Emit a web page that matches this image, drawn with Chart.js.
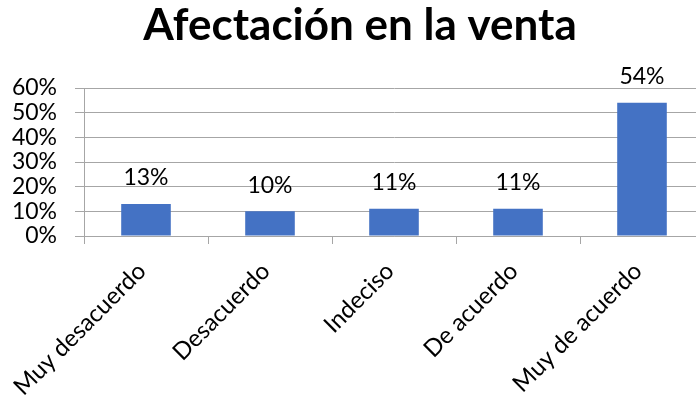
<!DOCTYPE html>
<html>
<head>
<meta charset="utf-8">
<script src="https://cdn.jsdelivr.net/npm/chart.js@4.4.1/dist/chart.umd.min.js"></script>
<style>
  html, body { margin: 0; padding: 0; background: #fff; }
  #wrap { width: 696px; height: 401px; overflow: hidden; position: relative; }
  #box { width: 722px; height: 401px; position: absolute; left: 0; top: 0; }
</style>
</head>
<body>
<div id="wrap"><div id="box"><canvas id="c"></canvas></div></div>
<script>
const chartTitle = "Afectación en la venta";
const categories = ["Muy desacuerdo", "Desacuerdo", "Indeciso", "De acuerdo", "Muy de acuerdo"];
const values = [13, 10, 11, 11, 54];
const yTicks = [0, 10, 20, 30, 40, 50, 60];

const FONT = "Lato, 'Open Sans', sans-serif";
const GRID = "#a6a6a6";

const titlePlugin = {
  id: 'titleText',
  afterDraw(chart) {
    const ctx = chart.ctx;
    ctx.save();
    ctx.font = "bold 44px " + FONT;
    ctx.fillStyle = "#000";
    ctx.textAlign = "center";
    ctx.textBaseline = "alphabetic";
    ctx.fillText(chartTitle, 360, 40);
    ctx.restore();
  }
};

const dataLabels = {
  id: 'dataLabels',
  afterDatasetsDraw(chart) {
    const ctx = chart.ctx;
    const meta = chart.getDatasetMeta(0);
    ctx.save();
    ctx.font = "23px " + FONT;
    ctx.fillStyle = "#000";
    ctx.textAlign = "center";
    ctx.textBaseline = "middle";
    meta.data.forEach((bar, i) => {
      ctx.fillText(values[i] + "%", bar.x, bar.y - 26);
    });
    ctx.restore();
  }
};

new Chart(document.getElementById('c'), {
  type: 'bar',
  data: {
    labels: categories,
    datasets: [{
      data: values,
      backgroundColor: "#4472C4",
      borderWidth: 0,
      barPercentage: 0.4,
      categoryPercentage: 1.0
    }]
  },
  options: {
    responsive: true,
    maintainAspectRatio: false,
    animation: false,
    layout: { padding: { left: 0, right: 18, top: 88, bottom: 0 } },
    plugins: {
      legend: { display: false },
      tooltip: { enabled: false },
      title: { display: false }
    },
    scales: {
      x: {
        offset: true,
        grid: { display: true, drawOnChartArea: false, drawTicks: true, tickLength: 8, color: GRID, offset: true },
        border: { display: true, color: GRID },
        ticks: {
          color: "#000",
          font: { family: FONT, size: 24 },
          minRotation: 45, maxRotation: 45,
          padding: 13,
          labelOffset: -4,
          autoSkip: false
        },
        afterFit(scale) { scale.height = 165; scale.paddingLeft = 0; scale.paddingRight = 0; }
      },
      y: {
        min: 0, max: 60,
        afterBuildTicks(scale) { scale.ticks = yTicks.map(v => ({ value: v })); },
        grid: { color: GRID, drawTicks: true, tickLength: 9 },
        border: { display: true, color: GRID },
        ticks: {
          color: "#000",
          font: { family: FONT, size: 23 },
          padding: 18,
          autoSkip: false,
          callback: (v) => v + "%"
        },
        afterFit(scale) { scale.width = 84; scale.paddingTop = 0; scale.paddingBottom = 0; }
      }
    }
  },
  plugins: [dataLabels, titlePlugin]
});
</script>
</body>
</html>
